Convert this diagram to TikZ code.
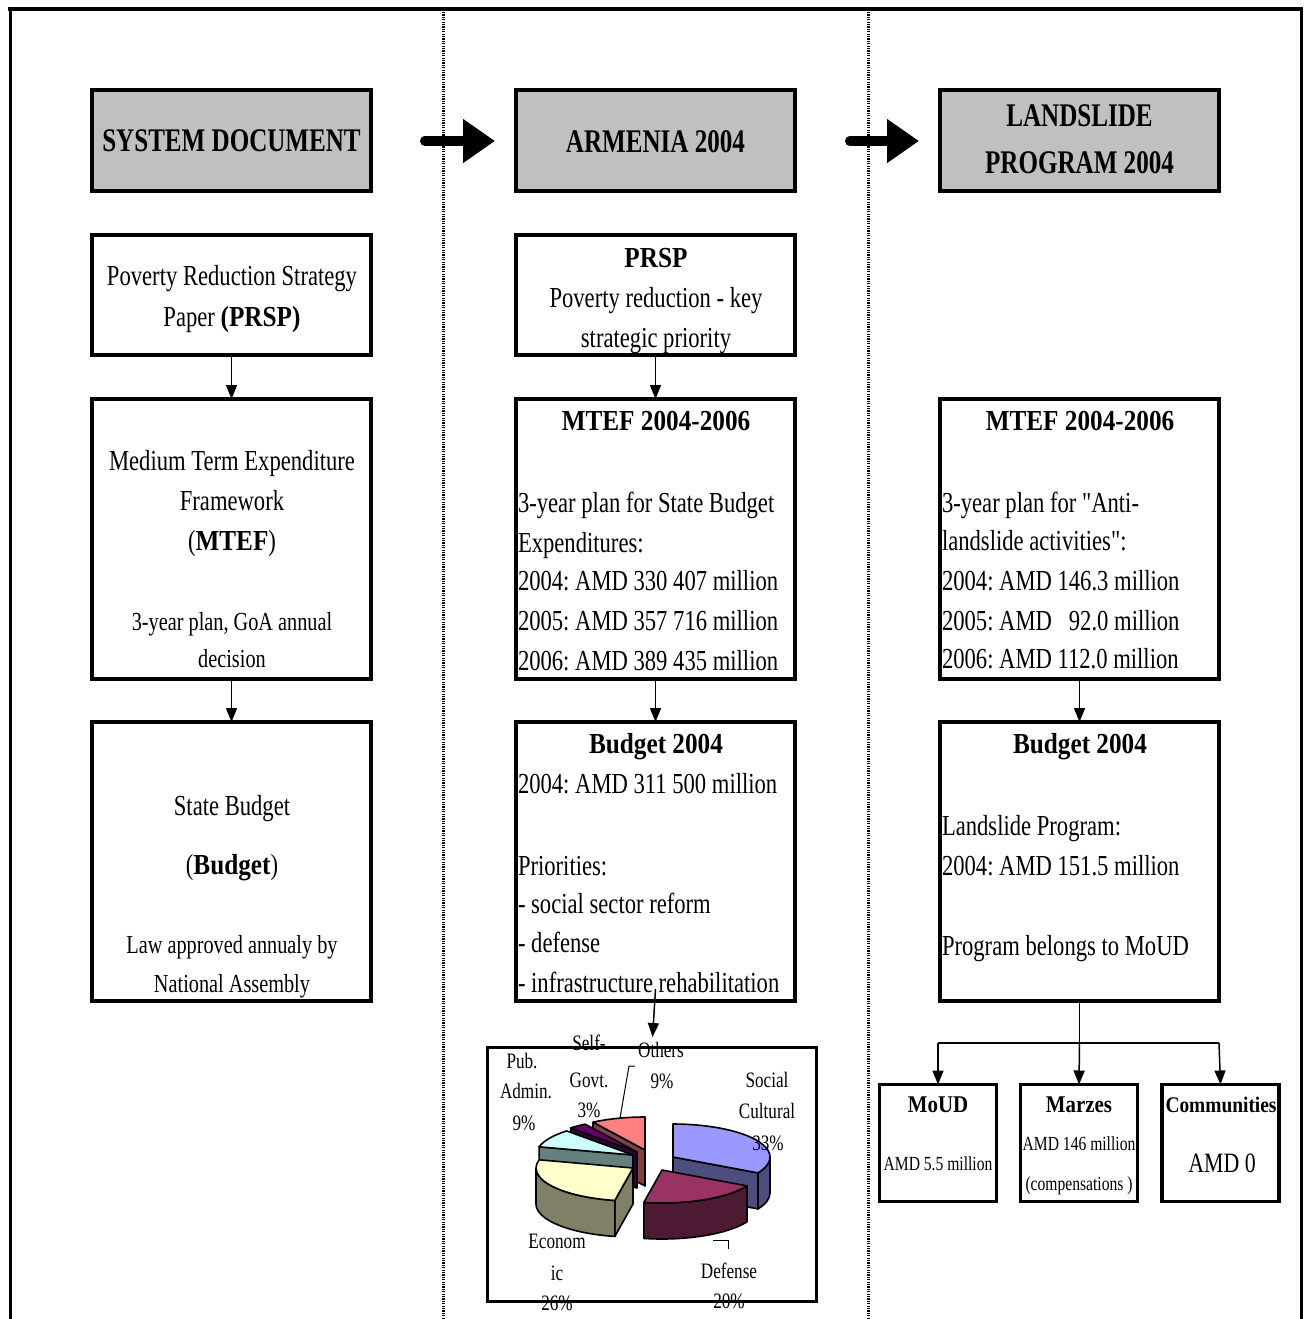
\documentclass[tikz,border=0pt]{standalone}
\usepackage{fontspec}
\setmainfont[FakeStretch=0.78,Ligatures=TeXOff,BoldFeatures={FakeStretch=0.87}]{Liberation Serif}
\newfontfamily\hdfont[FakeStretch=0.76,BoldFeatures={FakeStretch=0.76}]{Liberation Serif}
\usetikzlibrary{arrows.meta,calc}
\frenchspacing
\definecolor{hdrgray}{HTML}{C0C0C0}
\definecolor{socT}{HTML}{9999FF}\definecolor{socS}{HTML}{4D4D80}
\definecolor{defT}{HTML}{993366}\definecolor{defS}{HTML}{4C1A33}
\definecolor{ecoT}{HTML}{FFFFCC}\definecolor{ecoS}{HTML}{808066}
\definecolor{pubT}{HTML}{CCFFFF}\definecolor{pubS}{HTML}{668080}
\definecolor{selT}{HTML}{660066}\definecolor{selS}{HTML}{330033}
\definecolor{othT}{HTML}{FF8080}\definecolor{othS}{HTML}{804040}
\newcommand\fBody{\fontsize{29}{40}\selectfont}
\newcommand\fSmall{\fontsize{26}{38}\selectfont}
\newcommand\fPie{\fontsize{22}{32}\selectfont}
\newcommand\fHead{\hdfont\bfseries\fontsize{33}{44}\selectfont}
\newcommand\pietop[4]{\filldraw[fill=#4,pieedge] (#1) -- ++(#2:97 and 33) arc[start angle=#2,end angle=#3,x radius=97,y radius=33] -- cycle;}
\newcommand\pierad[3]{\filldraw[fill=#3,pieedge] (#1) -- ++(#2:97 and 33) -- ++(0,-36) -- ([yshift=-36pt]#1) -- cycle;}
\newcommand\piecurve[4]{\filldraw[fill=#4,pieedge] (#1) ++(#2:97 and 33) arc[start angle=#2,end angle=#3,x radius=97,y radius=33] -- ++(0,-36) arc[start angle=#3,end angle=#2,x radius=97,y radius=33] -- cycle;}
\tikzset{
 box/.style={draw=black, line width=4pt, minimum width=279pt, inner sep=0pt, outer sep=0pt},
 hbox/.style={box, fill=hdrgray, minimum height=101pt},
 sbox/.style={draw=black, line width=3.5pt, minimum width=117pt, minimum height=117pt, inner sep=0pt, outer sep=0pt},
 piebox/.style={draw=black, line width=3pt, minimum width=329pt, minimum height=254pt, inner sep=0pt},
 arr/.style={line width=1.5pt, -{Triangle[length=14pt,width=11pt]}},
 bigarr/.style={line width=9pt, line cap=round, -{Triangle[length=32pt,width=42pt]}},
 tx/.style={inner sep=0pt, outer sep=0pt, anchor=base},
 tl/.style={tx, anchor=base west},
 pieedge/.style={draw=black, line width=1.6pt, line join=round},
 leader/.style={line width=1pt},
 dotline/.style={line width=3pt, dash pattern=on 1.2pt off 1.2pt},
}
\begin{document}
\begin{tikzpicture}[x=1pt,y=1pt]
\useasboundingbox (0,0) rectangle (1303,-1319);
\fill[white] (0,0) rectangle (1303,-1319);
% frame
\draw[line width=4pt] (8,-9.5) -- (1303,-9.5);
\draw[line width=3pt] (10,-8) -- (10,-1319);
\draw[line width=3pt] (1301,-8) -- (1301,-1319);
\draw[dotline] (443,-12) -- (443,-1319);
\draw[dotline] (868,-12) -- (868,-1319);
% headers
\node[hbox] (h1) at (231.5,-140.5) {};
\node[hbox] (h2) at (655.5,-140.5) {};
\node[hbox] (h3) at (1079.5,-140.5) {};
\node[tx,font=\fHead] (h1t) at (231.5,-151) {SYSTEM DOCUMENT};
\node[tx,font=\fHead] (h2t) at (655.5,-152) {ARMENIA 2004};
\node[tx,font=\fHead] (h3ta) at (1079.5,-127) {LANDSLIDE};
\node[tx,font=\fHead] (h3tb) at (1079.5,-173) {PROGRAM 2004};
\coordinate (ba1s) at (424.5,-141);
\coordinate (ba1e) at (495,-141);
\coordinate (ba2s) at (849.5,-141);
\coordinate (ba2e) at (919,-141);
\draw[bigarr] (ba1s) -- (ba1e);
\draw[bigarr] (ba2s) -- (ba2e);
% boxes
\node[box, minimum height=120pt] (p1) at (231.5,-295) {};
\node[box, minimum height=280pt] (m1) at (231.5,-539) {};
\node[box, minimum height=279pt] (b1) at (231.5,-861.5) {};
\node[box, minimum height=120pt] (p2) at (655.5,-295) {};
\node[box, minimum height=280pt] (m2) at (655.5,-539) {};
\node[box, minimum height=279pt] (b2) at (655.5,-861.5) {};
\node[box, minimum height=280pt] (m3) at (1079.5,-539) {};
\node[box, minimum height=279pt] (b3) at (1079.5,-861.5) {};
\draw[arr] (p1.south) -- (m1.north);
\draw[arr] (m1.south) -- (b1.north);
\draw[arr] (p2.south) -- (m2.north);
\draw[arr] (m2.south) -- (b2.north);
\draw[arr] (m3.south) -- (b3.north);
% column 1 texts
\node[tx,font=\fBody] (t11) at (232,-285) {Poverty Reduction Strategy};
\node[tx,font=\fBody] (t12) at (232,-326) {Paper \textbf{(PRSP)}};
\node[tx,font=\fBody] (t13) at (232,-470) {Medium Term Expenditure};
\node[tx,font=\fBody] (t14) at (232,-510) {Framework};
\node[tx,font=\fBody] (t15) at (232,-550) {(\textbf{MTEF})};
\node[tx,font=\fSmall] (t16) at (232,-630) {3-year plan, GoA annual};
\node[tx,font=\fSmall] (t17) at (232,-667) {decision};
\node[tx,font=\fBody] (t18) at (232,-815) {State Budget};
\node[tx,font=\fBody] (t19) at (232,-874) {(\textbf{Budget})};
\node[tx,font=\fSmall] (t1a) at (232,-953) {Law approved annualy by};
\node[tx,font=\fSmall] (t1b) at (232,-992) {National Assembly};
% column 2 texts
\node[tx,font=\fBody] (t21) at (656,-267) {\textbf{PRSP}};
\node[tx,font=\fBody] (t22) at (656,-307) {Poverty reduction - key};
\node[tx,font=\fBody] (t23) at (656,-347) {strategic priority};
\node[tx,font=\fBody] (t24) at (656,-430) {\textbf{MTEF 2004-2006}};
\node[tl,font=\fBody] (t25) at (518,-512) {3-year plan for State Budget};
\node[tl,font=\fBody] (t26) at (518,-552) {Expenditures:};
\node[tl,font=\fBody] (t27) at (518,-590) {2004: AMD 330 407 million};
\node[tl,font=\fBody] (t28) at (518,-630) {2005: AMD 357 716 million};
\node[tl,font=\fBody] (t29) at (518,-670) {2006: AMD 389 435 million};
\node[tx,font=\fBody] (t2a) at (656,-753) {\textbf{Budget 2004}};
\node[tl,font=\fBody] (t2b) at (518,-793) {2004: AMD 311 500 million};
\node[tl,font=\fBody] (t2c) at (518,-875) {Priorities:};
\node[tl,font=\fBody] (t2d) at (518,-913) {- social sector reform};
\node[tl,font=\fBody] (t2e) at (518,-952) {- defense};
\node[tl,font=\fBody] (t2f) at (518,-992) {- infrastructure rehabilitation};
% column 3 texts
\node[tx,font=\fBody] (t31) at (1080,-430) {\textbf{MTEF 2004-2006}};
\node[tl,font=\fBody] (t32) at (942,-512) {3-year plan for "Anti-};
\node[tl,font=\fBody] (t33) at (942,-550) {landslide activities":};
\node[tl,font=\fBody] (t34) at (942,-590) {2004: AMD 146.3 million};
\node[tl,font=\fBody] (t35) at (942,-630) {2005: AMD\ \ \ 92.0 million};
\node[tl,font=\fBody] (t36) at (942,-668) {2006: AMD 112.0 million};
\node[tx,font=\fBody] (t37) at (1080,-753) {\textbf{Budget 2004}};
\node[tl,font=\fBody] (t38) at (942,-835) {Landslide Program:};
\node[tl,font=\fBody] (t39) at (942,-875) {2004: AMD 151.5 million};
\node[tl,font=\fBody] (t3a) at (942,-955) {Program belongs to MoUD};
% split to small boxes
\node[sbox] (moud) at (938,-1143) {};
\node[sbox] (marz) at (1079,-1143) {};
\node[sbox] (comm) at (1220.5,-1143) {};
\coordinate (split) at (1079.5,-1043);
\coordinate (splL) at (938,-1043);
\coordinate (splR) at (1219,-1043);
\draw[line width=1.5pt] (b3.south) -- (split);
\draw[line width=1.5pt] (splL) -- (splR);
\draw[arr] (splL) -- (moud.north);
\draw[arr] (split) -- (marz.north);
\draw[arr] (splR) -- (comm.north);
\node[tx,font=\fontsize{24}{30}\selectfont] (s1) at (938,-1112) {\textbf{MoUD}};
\node[tx,font=\fontsize{20}{28}\selectfont] (s2) at (938,-1170) {AMD 5.5 million};
\node[tx,font=\fontsize{24}{30}\selectfont] (s3) at (1079,-1112) {\textbf{Marzes}};
\node[tx,font=\fontsize{20}{28}\selectfont] (s4) at (1079,-1150) {AMD 146 million};
\node[tx,font=\fontsize{20}{28}\selectfont] (s5) at (1079,-1190) {(compensations )};
\node[tx,font=\fontsize{22.3}{30}\selectfont] (s6) at (1221,-1112) {\textbf{Communities}};
\node[tx,font=\fontsize{28}{34}\selectfont] (s7) at (1222,-1172) {AMD 0};
% pie chart
\node[piebox] (pie) at (652,-1174.5) {};
\draw[arr, shorten >=9pt] ([yshift=12pt]b2.south) -- (pie.north);
\coordinate (vOth) at (645,-1150);
\coordinate (vSel) at (637,-1152);
\coordinate (vPub) at (633,-1155);
\coordinate (vSoc) at (673,-1157);
\coordinate (vEco) at (633,-1168);
\coordinate (vDef) at (662,-1170);
\pierad{vOth}{122.4}{othS}
\pietop{vOth}{90}{122.4}{othT}
\pierad{vSel}{133.2}{selS}
\pietop{vSel}{122.4}{133.2}{selT}
\pierad{vPub}{165.6}{pubS}
\pietop{vPub}{133.2}{165.6}{pubT}
\pierad{vSoc}{-28.8}{socS}
\piecurve{vSoc}{-28.8}{0}{socS}
\pietop{vSoc}{-28.8}{90}{socT}
\pierad{vEco}{259.2}{ecoS}
\piecurve{vEco}{180}{259.2}{ecoS}
\pietop{vEco}{165.6}{259.2}{ecoT}
\piecurve{vDef}{-100.8}{-28.8}{defS}
\pietop{vDef}{-100.8}{-28.8}{defT}
% leaders
\coordinate (lo1) at (635,-1066);
\coordinate (lo2) at (629,-1066);
\coordinate (lo3) at (620,-1118);
\draw[leader] (lo1) -- (lo2) -- (lo3);
\coordinate (ld1) at (713,-1240);
\coordinate (ld2) at (728,-1240);
\coordinate (ld3) at (728,-1249);
\draw[leader] (ld1) -- (ld2) -- (ld3);
% pie labels
\node[tx,font=\fPie] (l1) at (522,-1068) {Pub.};
\node[tx,font=\fPie] (l2) at (526,-1098) {Admin.};
\node[tx,font=\fPie] (l3) at (524,-1130) {9\%};
\node[tx,font=\fPie] (l4) at (589,-1050) {Self-};
\node[tx,font=\fPie] (l5) at (589,-1087) {Govt.};
\node[tx,font=\fPie] (l6) at (589,-1117) {3\%};
\node[tx,font=\fPie] (l7) at (661,-1057) {Others};
\node[tx,font=\fPie] (l8) at (662,-1088) {9\%};
\node[tx,font=\fPie] (l9) at (767,-1087) {Social};
\node[tx,font=\fPie] (l10) at (767,-1118) {Cultural};
\node[tx,font=\fPie] (l11) at (768,-1150) {33\%};
\node[tx,font=\fPie] (l12) at (557,-1248) {Econom};
\node[tx,font=\fPie] (l13) at (557,-1280) {ic};
\node[tx,font=\fPie] (l14) at (557,-1310) {26\%};
\node[tx,font=\fPie] (l15) at (729,-1278) {Defense};
\node[tx,font=\fPie] (l16) at (729,-1308) {20\%};
\end{tikzpicture}
\end{document}
